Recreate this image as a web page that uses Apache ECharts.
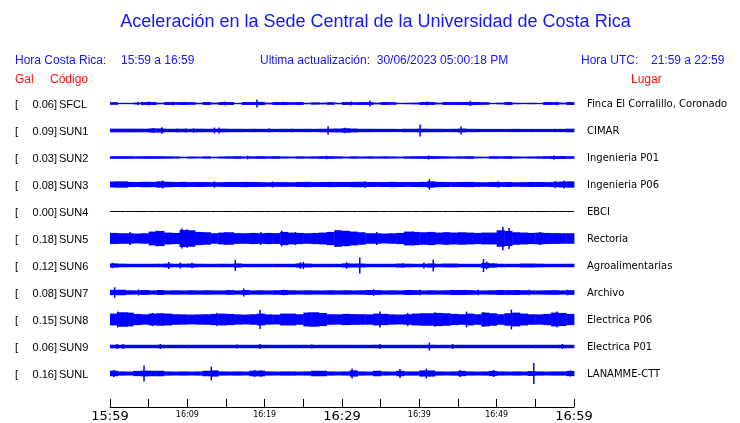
<!DOCTYPE html>
<html><head><meta charset="utf-8">
<script src="https://cdn.jsdelivr.net/npm/echarts@6/dist/echarts.min.js"></script>
<style>html,body{margin:0;padding:0;background:#fff}#c{width:740px;height:423px}</style>
</head><body><div id="c"></div>
<script>
// ---------- DATA ----------
const stations = ['SFCL','SUN1','SUN2','SUN3','SUN4','SUN5','SUN6','SUN7','SUN8','SUN9','SUNL'];
const places = ['Finca El Corralillo, Coronado','CIMAR','Ingenieria P01','Ingenieria P06','EBCI','Rectoria','Agroalimentarias','Archivo','Electrica P06','Electrica P01','LANAMME-CTT'];
const peakGal = ['0.06','0.09','0.03','0.08','0.00','0.18','0.12','0.08','0.15','0.06','0.16'];
const tickLabels = ['15:59','16:04','16:09','16:14','16:19','16:24','16:29','16:34','16:39','16:44','16:49','16:54','16:59'];
const majorLabels = ['15:59','16:29','16:59'];

// per-minute envelope (half amplitude, gal) of each trace, minutes 0..59
const bandSFCL = [0.02,0.01,0.01,0.014,0.022,0.022,0.012,0.022,0.02,0.022,0.02,0.012,0.022,0.014,0.022,0.022,0.01,0.022,0.022,0.024,0.014,0.022,0.022,0.02,0.022,0.012,0.018,0.014,0.02,0.012,0.022,0.02,0.022,0.022,0.014,0.022,0.02,0.01,0.012,0.014,0.022,0.022,0.014,0.022,0.022,0.022,0.024,0.022,0.02,0.01,0.014,0.022,0.012,0.01,0.012,0.01,0.022,0.02,0.014,0.022];
const bandSUN1 = [0.028,0.028,0.028,0.028,0.027,0.032,0.032,0.026,0.026,0.027,0.026,0.028,0.026,0.026,0.028,0.026,0.026,0.025,0.026,0.025,0.026,0.025,0.026,0.025,0.025,0.026,0.025,0.027,0.028,0.03,0.034,0.03,0.026,0.026,0.025,0.025,0.025,0.024,0.026,0.026,0.028,0.026,0.026,0.025,0.026,0.03,0.026,0.025,0.024,0.024,0.024,0.024,0.025,0.024,0.024,0.024,0.024,0.024,0.025,0.028];
const bandSUN2 = [0.02,0.02,0.02,0.018,0.02,0.02,0.02,0.018,0.016,0.012,0.016,0.014,0.018,0.012,0.016,0.018,0.02,0.016,0.018,0.02,0.018,0.02,0.016,0.014,0.018,0.016,0.018,0.02,0.02,0.018,0.014,0.018,0.016,0.018,0.016,0.018,0.016,0.014,0.018,0.02,0.02,0.022,0.02,0.018,0.016,0.018,0.02,0.014,0.012,0.02,0.018,0.02,0.016,0.014,0.016,0.018,0.02,0.022,0.022,0.02];
const bandSUN3 = [0.045,0.048,0.04,0.038,0.042,0.04,0.048,0.042,0.038,0.04,0.036,0.038,0.036,0.034,0.036,0.038,0.038,0.04,0.038,0.036,0.034,0.036,0.036,0.034,0.038,0.04,0.036,0.038,0.04,0.038,0.038,0.04,0.042,0.038,0.036,0.038,0.04,0.038,0.036,0.038,0.04,0.048,0.04,0.038,0.036,0.038,0.04,0.036,0.034,0.038,0.036,0.038,0.034,0.036,0.038,0.038,0.036,0.04,0.045,0.048];
const bandSUN4 = [0,0,0,0,0,0,0,0,0,0,0,0,0,0,0,0,0,0,0,0,0,0,0,0,0,0,0,0,0,0,0,0,0,0,0,0,0,0,0,0,0,0,0,0,0,0,0,0,0,0,0,0,0,0,0,0,0,0,0,0];
const bandSUN5 = [0.085,0.08,0.08,0.075,0.08,0.105,0.115,0.09,0.085,0.13,0.125,0.1,0.095,0.08,0.09,0.095,0.082,0.08,0.085,0.08,0.085,0.082,0.1,0.09,0.085,0.08,0.085,0.09,0.1,0.125,0.115,0.105,0.095,0.08,0.08,0.075,0.08,0.085,0.105,0.1,0.095,0.1,0.09,0.095,0.09,0.095,0.09,0.085,0.09,0.09,0.125,0.115,0.095,0.09,0.085,0.09,0.085,0.082,0.08,0.08];
const bandSUN6 = [0.032,0.028,0.026,0.026,0.026,0.026,0.027,0.03,0.027,0.028,0.03,0.027,0.026,0.026,0.027,0.026,0.032,0.026,0.026,0.026,0.026,0.026,0.026,0.026,0.032,0.03,0.026,0.026,0.026,0.026,0.032,0.03,0.03,0.026,0.026,0.026,0.026,0.03,0.028,0.026,0.027,0.032,0.027,0.03,0.03,0.026,0.026,0.026,0.04,0.032,0.027,0.026,0.026,0.03,0.03,0.028,0.026,0.026,0.026,0.027];
const bandSUN7 = [0.04,0.042,0.034,0.032,0.037,0.032,0.038,0.032,0.034,0.032,0.034,0.032,0.034,0.032,0.032,0.036,0.032,0.038,0.032,0.034,0.032,0.034,0.038,0.034,0.032,0.034,0.032,0.032,0.034,0.032,0.034,0.032,0.034,0.038,0.036,0.032,0.034,0.032,0.038,0.036,0.032,0.034,0.032,0.034,0.038,0.038,0.036,0.032,0.032,0.034,0.038,0.036,0.038,0.034,0.032,0.032,0.034,0.036,0.032,0.036];
const bandSUN8 = [0.09,0.11,0.105,0.085,0.078,0.09,0.095,0.09,0.08,0.078,0.075,0.078,0.08,0.085,0.09,0.085,0.078,0.075,0.08,0.09,0.078,0.075,0.09,0.09,0.08,0.105,0.11,0.1,0.08,0.078,0.085,0.082,0.08,0.078,0.09,0.085,0.078,0.075,0.08,0.09,0.095,0.095,0.1,0.095,0.085,0.08,0.09,0.08,0.105,0.095,0.08,0.095,0.105,0.09,0.08,0.078,0.085,0.105,0.1,0.085];
const bandSUN9 = [0.027,0.027,0.026,0.026,0.026,0.026,0.027,0.026,0.026,0.026,0.026,0.026,0.026,0.026,0.026,0.026,0.026,0.026,0.026,0.027,0.026,0.026,0.026,0.026,0.026,0.026,0.026,0.026,0.026,0.026,0.026,0.026,0.026,0.026,0.027,0.026,0.026,0.026,0.026,0.026,0.026,0.027,0.026,0.026,0.026,0.026,0.026,0.026,0.026,0.026,0.026,0.026,0.026,0.026,0.026,0.026,0.026,0.026,0.027,0.026];
const bandSUNL = [0.042,0.032,0.03,0.04,0.044,0.042,0.042,0.032,0.03,0.032,0.03,0.032,0.042,0.047,0.032,0.03,0.032,0.03,0.042,0.044,0.032,0.03,0.032,0.032,0.03,0.032,0.042,0.042,0.032,0.03,0.032,0.047,0.032,0.03,0.042,0.032,0.03,0.042,0.032,0.032,0.047,0.047,0.032,0.03,0.032,0.04,0.032,0.03,0.032,0.04,0.032,0.03,0.032,0.03,0.037,0.032,0.03,0.032,0.032,0.04];

// notable peaks: [minute, half amplitude in gal]
const peaksSFCL = [[3.6,0.025],[5.0,0.03],[8.2,0.028],[14.8,0.03],[19.0,0.06],[22.4,0.028],[31.2,0.03],[33.6,0.045],[41.0,0.03],[46.6,0.04],[57.8,0.028]];
const peaksSUN1 = [[5.6,0.038],[6.7,0.05],[8.7,0.03],[9.8,0.03],[10.8,0.035],[13.5,0.045],[14.1,0.045],[20.6,0.03],[23.6,0.028],[28.2,0.065],[30.4,0.04],[38.0,0.028],[39.8,0.028],[40.1,0.09],[45.4,0.06],[57.5,0.026]];
const peaksSUN2 = [[17.8,0.028],[28.0,0.026],[41.2,0.03],[57.4,0.03]];
const peaksSUN3 = [[0.8,0.05],[2.2,0.05],[6.8,0.06],[13.5,0.048],[21.0,0.045],[33.0,0.05],[41.3,0.08],[50.2,0.05],[57.6,0.055],[58.7,0.06]];
const peaksSUN4 = [];
const peaksSUN5 = [[2.6,0.1],[6.0,0.12],[9.3,0.15],[10.0,0.14],[12.0,0.1],[14.9,0.1],[19.5,0.1],[22.2,0.12],[24.0,0.1],[29.2,0.13],[30.5,0.12],[34.5,0.1],[39.2,0.11],[43.5,0.1],[50.8,0.18],[51.6,0.16],[55.6,0.1]];
const peaksSUN6 = [[0.4,0.04],[7.6,0.055],[9.1,0.045],[10.6,0.04],[16.2,0.085],[24.6,0.05],[25.0,0.055],[30.6,0.05],[32.3,0.12],[37.9,0.035],[40.6,0.045],[41.8,0.09],[48.3,0.1],[48.7,0.06],[49.5,0.035]];
const peaksSUN7 = [[0.6,0.08],[3.7,0.045],[17.3,0.06],[22.5,0.04],[34.1,0.05],[40.1,0.042],[47.6,0.042],[54.2,0.04],[59.1,0.04]];
const peaksSUN8 = [[1.0,0.12],[2.2,0.11],[5.5,0.1],[13.8,0.1],[19.4,0.145],[25.8,0.11],[34.9,0.12],[38.5,0.1],[42.0,0.11],[46.1,0.12],[48.3,0.11],[51.9,0.15],[57.8,0.12]];
const peaksSUN9 = [[0.9,0.038],[1.7,0.038],[6.5,0.038],[16.4,0.03],[19.4,0.038],[26.1,0.032],[34.9,0.038],[41.3,0.06],[44.3,0.038],[58.5,0.038]];
const peaksSUNL = [[0.5,0.055],[4.4,0.12],[13.1,0.105],[18.7,0.055],[19.5,0.05],[31.3,0.075],[37.5,0.068],[40.9,0.075],[45.3,0.053],[49.6,0.053],[54.8,0.16],[59.5,0.045]];

const bands = [bandSFCL,bandSUN1,bandSUN2,bandSUN3,bandSUN4,bandSUN5,bandSUN6,bandSUN7,bandSUN8,bandSUN9,bandSUNL];
const peaks = [peaksSFCL,peaksSUN1,peaksSUN2,peaksSUN3,peaksSUN4,peaksSUN5,peaksSUN6,peaksSUN7,peaksSUN8,peaksSUN9,peaksSUNL];

// ---------- LAYOUT ----------
const LEFT = 110, WIDTH = 464, ROW0 = 103.5, ROWH = 27;
const YR = 0.205;
const BLUE = '#0000ff';
const grids = [], xAxes = [], yAxes = [], series = [], graphics = [];

stations.forEach((st, i) => {
  const cy = ROW0 + ROWH * i;
  grids.push({left: LEFT, width: WIDTH, top: cy - ROWH / 2, height: ROWH});
  xAxes.push({gridIndex: i, type: 'value', min: 0, max: 60, show: false});
  yAxes.push({gridIndex: i, type: 'value', min: -YR, max: YR, show: false});
  const flat = bands[i].every(v => v === 0);
  if (flat) {
    series.push({type: 'line', xAxisIndex: i, yAxisIndex: i, symbol: 'none', silent: true,
      data: bands[i].map((a, k) => [k, a]).concat([[60, bands[i][59]]]),
      lineStyle: {color: '#000', width: 1}, animation: false});
  } else {
    series.push({type: 'custom', xAxisIndex: i, yAxisIndex: i, silent: true, animation: false,
      data: bands[i].map((a, k) => [k, a]),
      renderItem: (params, api) => {
        const t = api.value(0), a = api.value(1);
        const p1 = api.coord([t, a]), p2 = api.coord([t + 1, -a]);
        return {type: 'rect', shape: {x: p1[0], y: p1[1], width: p2[0] - p1[0] + 0.4, height: Math.max(p2[1] - p1[1], 1)},
          style: {fill: BLUE}};
      }});
    series.push({type: 'custom', xAxisIndex: i, yAxisIndex: i, silent: true, animation: false,
      data: peaks[i],
      renderItem: (params, api) => {
        const t = api.value(0), a = api.value(1);
        const p1 = api.coord([t, a]), p2 = api.coord([t, -a]);
        return {type: 'line', shape: {x1: p1[0], y1: p1[1], x2: p2[0], y2: p2[1]},
          style: {stroke: BLUE, lineWidth: 1.5}};
      }});
  }
  const tf = {fontFamily: 'Liberation Sans', fontSize: 11, fill: '#000', verticalAlign: 'middle'};
  const ty = cy + 1;
  graphics.push({type: 'text', x: 15, y: ty, style: Object.assign({text: '['}, tf)});
  graphics.push({type: 'text', x: 57, y: ty, style: Object.assign({text: peakGal[i] + ']', align: 'right'}, tf)});
  graphics.push({type: 'text', x: 59, y: ty, style: Object.assign({text: st}, tf)});
  graphics.push({type: 'text', x: 587, y: ty, style: {text: places[i], fontFamily: 'DejaVu Sans', fontSize: 10, fill: '#000', verticalAlign: 'middle'}});
});

// time axis
const ti = stations.length;
grids.push({left: LEFT, width: WIDTH, top: 400, height: 8});
xAxes.push({gridIndex: ti, type: 'value', min: 0, max: 60, interval: 5, position: 'bottom',
  axisLine: {show: true, lineStyle: {color: '#000', width: 1}},
  axisTick: {show: true, inside: true, length: 8, lineStyle: {color: '#000', width: 1}},
  splitLine: {show: false},
  axisLabel: {show: true, margin: 2, showMinLabel: true, showMaxLabel: true, color: '#000',
    formatter: v => {
      const k = Math.round(v / 5);
      if (k % 2) return '';
      const s = tickLabels[k];
      return majorLabels.indexOf(s) >= 0 ? '{b|' + s + '}' : '{s|' + s + '}';
    },
    rich: {
      b: {fontFamily: 'DejaVu Sans', fontSize: 13, color: '#000', lineHeight: 14, padding: [1, 0, 0, 0]},
      s: {fontFamily: 'DejaVu Sans', fontSize: 8, color: '#000', lineHeight: 9, padding: [2, 0, 0, 0]}
    }}});
yAxes.push({gridIndex: ti, type: 'value', min: 0, max: 1, show: false});

// header texts
const hdr = {fontFamily: 'Liberation Sans', fontSize: 12, fill: '#1515ff', verticalAlign: 'middle'};
const red = {fontFamily: 'Liberation Sans', fontSize: 12, fill: '#ff1010', verticalAlign: 'middle'};
graphics.push({type: 'text', x: 375.5, y: 22, style: {text: 'Aceleración en la Sede Central de la Universidad de Costa Rica', fontFamily: 'Liberation Sans', fontSize: 18, fill: '#1515ff', align: 'center', verticalAlign: 'middle'}});
graphics.push({type: 'text', x: 15, y: 61, style: Object.assign({text: 'Hora Costa Rica:'}, hdr)});
graphics.push({type: 'text', x: 121, y: 61, style: Object.assign({text: '15:59 a 16:59'}, hdr)});
graphics.push({type: 'text', x: 260, y: 61, style: Object.assign({text: 'Ultima actualización:  30/06/2023 05:00:18 PM'}, hdr)});
graphics.push({type: 'text', x: 581, y: 61, style: Object.assign({text: 'Hora UTC:'}, hdr)});
graphics.push({type: 'text', x: 651, y: 61, style: Object.assign({text: '21:59 a 22:59'}, hdr)});
graphics.push({type: 'text', x: 15, y: 80, style: Object.assign({text: 'Gal'}, red)});
graphics.push({type: 'text', x: 50, y: 80, style: Object.assign({text: 'Código'}, red)});
graphics.push({type: 'text', x: 631, y: 80, style: Object.assign({text: 'Lugar'}, red)});

const chart = echarts.init(document.getElementById('c'), null, {renderer: 'canvas'});
chart.setOption({
  animation: false,
  backgroundColor: '#fff',
  grid: grids, xAxis: xAxes, yAxis: yAxes, series: series,
  graphic: {elements: graphics}
});
</script></body></html>
